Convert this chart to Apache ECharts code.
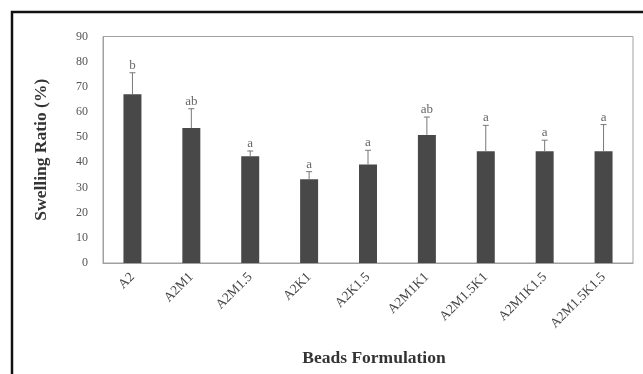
<!DOCTYPE html>
<html>
<head>
<meta charset="utf-8">
<script src="https://cdn.jsdelivr.net/npm/echarts@6/dist/echarts.min.js"></script>
<style>html,body{margin:0;padding:0;background:#fff;}#c{width:643px;height:374px;}</style>
</head>
<body>
<div id="c"></div>
<script>
var categories = ['A2','A2M1','A2M1.5','A2K1','A2K1.5','A2M1K1','A2M1.5K1','A2M1K1.5','A2M1.5K1.5'];
var means = [67.1, 53.6, 42.4, 33.3, 39.1, 50.9, 44.4, 44.4, 44.4];
var errors = [8.5, 7.7, 2.1, 3.0, 5.7, 7.1, 10.3, 4.4, 10.6];
var letters = ['b','ab','a','a','a','ab','a','a','a'];
var yTicks = [0,10,20,30,40,50,60,70,80,90];

var chart = echarts.init(document.getElementById('c'));
var serif = '"Liberation Serif", "DejaVu Serif", serif';
chart.setOption({
  animation: false,
  backgroundColor: '#fff',
  graphic: [{
    type: 'rect', shape: {x: 12, y: 12, width: 640, height: 380},
    style: {fill: 'none', stroke: '#111', lineWidth: 2.5}, z: 100
  }],
  grid: {left: 103, right: 10, top: 36.5, bottom: 111, show: true, borderColor: '#a0a0a0', borderWidth: 1, backgroundColor: '#fff'},
  xAxis: {
    type: 'category', data: categories,
    axisLine: {show: true, lineStyle: {color: '#a0a0a0'}},
    axisTick: {show: false},
    axisLabel: {rotate: 45, margin: 12, color: '#444', fontFamily: serif, fontSize: 13.5, interval: 0},
    name: 'Beads Formulation', nameLocation: 'middle', nameGap: 86,
    nameTextStyle: {fontFamily: serif, fontSize: 17.5, fontWeight: 'bold', color: '#333', padding: [0, 0, 0, 12]}
  },
  yAxis: {
    type: 'value', min: yTicks[0], max: yTicks[yTicks.length-1], interval: 10,
    axisLine: {show: true, lineStyle: {color: '#a0a0a0'}},
    axisTick: {show: false},
    splitLine: {show: false},
    axisLabel: {color: '#555', fontFamily: serif, fontSize: 12, margin: 15},
    name: 'Swelling Ratio (%)', nameLocation: 'middle', nameGap: 53, nameRotate: 90,
    nameTextStyle: {fontFamily: serif, fontSize: 17.5, fontWeight: 'bold', color: '#333'}
  },
  series: [{
    type: 'bar', data: means, barWidth: 18,
    itemStyle: {color: '#484848'}
  }, {
    type: 'custom',
    data: means.map(function(m, i){ return [i, m, m + errors[i]]; }),
    renderItem: function(params, api) {
      var x = api.value(0);
      var p0 = api.coord([x, api.value(1)]);
      var p1 = api.coord([x, api.value(2)]);
      var i = params.dataIndex;
      return {
        type: 'group',
        children: [
          {type: 'line', shape: {x1: p0[0], y1: p0[1], x2: p1[0], y2: p1[1]}, style: {stroke: '#777', lineWidth: 1}},
          {type: 'line', shape: {x1: p1[0]-3, y1: p1[1], x2: p1[0]+3, y2: p1[1]}, style: {stroke: '#777', lineWidth: 1}},
          {type: 'text', x: p1[0], y: p1[1] - 1, style: {text: letters[i], textAlign: 'center', textVerticalAlign: 'bottom', fontFamily: serif, fontSize: 13, fill: '#666'}}
        ]
      };
    },
    z: 5
  }]
});
</script>
</body>
</html>
